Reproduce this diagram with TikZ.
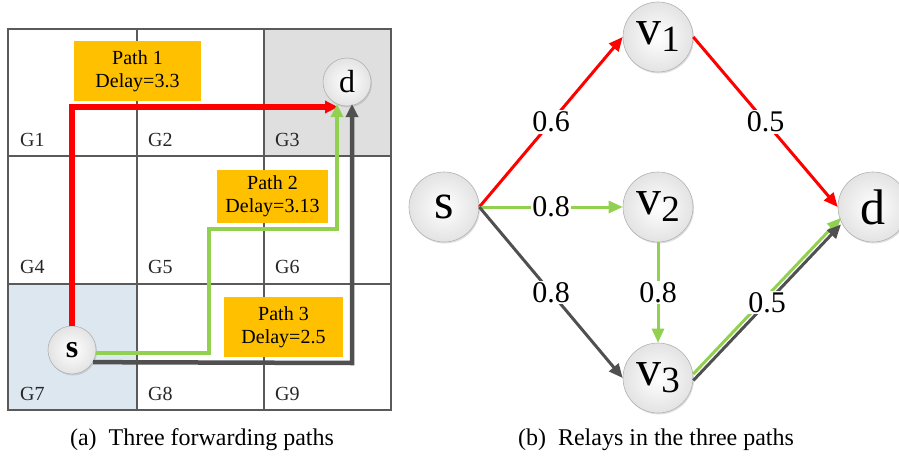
\documentclass[tikz,border=0pt]{standalone}
\usepackage{fontspec}
\setmainfont{Liberation Serif}
\usetikzlibrary{arrows.meta,shadows,calc}
\definecolor{gridc}{HTML}{5A5A5A}
\definecolor{boxc}{HTML}{FFC000}
\definecolor{pred}{HTML}{FF0000}
\definecolor{pgreen}{HTML}{92D050}
\definecolor{pgray}{HTML}{505050}
\definecolor{cellgray}{HTML}{DFDFDF}
\definecolor{cellblue}{HTML}{DDE7F0}
\begin{document}
\begin{tikzpicture}[x=1pt,y=-1pt,
  ball/.style={circle, draw=gray!60, line width=0.6pt, inner color=white, outer color=gray!22,
     drop shadow={shadow xshift=1pt, shadow yshift=-1.5pt, opacity=0.25}, inner sep=0pt},
  smallball/.style={ball, minimum size=48pt},
  bigball/.style={ball, minimum size=70pt},
  glab/.style={anchor=west, font=\fontsize{20}{20}\selectfont, text=black!85, inner sep=0pt},
  pbox/.style={fill=boxc, align=center, font=\fontsize{20}{23}\selectfont, inner sep=0pt},
  gridline/.style={draw=gridc, line width=1.8pt},
  thickarrow/.style={-{Triangle[length=13pt,width=12pt]}},
  lred/.style={draw=pred, line width=5.5pt, thickarrow},
  lgreen/.style={draw=pgreen, line width=4.5pt, thickarrow},
  lgray/.style={draw=pgray, line width=4.5pt, thickarrow},
  edge/.style={line width=3pt, -{Triangle[length=14pt,width=12pt]}},
  elab/.style={fill=white, inner sep=1.5pt, font=\fontsize{30}{30}\selectfont},
  caplab/.style={font=\fontsize{24}{24}\selectfont}
]
\useasboundingbox (0,0) rectangle (899,463);
% ---------- (a) grid ----------
\fill[cellgray] (264,29) rectangle (391,156);
\fill[cellblue] (8,284) rectangle (137,410);
\draw[gridline] (8,29) rectangle (391,410);
\draw[gridline] (137,29) -- (137,410);
\draw[gridline] (264,29) -- (264,410);
\draw[gridline] (8,156) -- (391,156);
\draw[gridline] (8,284) -- (391,284);
\node[glab] (g1) at (20,140) {G1};
\node[glab] (g2) at (148,140) {G2};
\node[glab] (g3) at (275,140) {G3};
\node[glab] (g4) at (20,267) {G4};
\node[glab] (g5) at (148,267) {G5};
\node[glab] (g6) at (275,267) {G6};
\node[glab] (g7) at (20,394) {G7};
\node[glab] (g8) at (148,394) {G8};
\node[glab] (g9) at (275,394) {G9};
\node[pbox, minimum width=127pt, minimum height=60pt] (p1) at (137.5,71) {Path 1\\Delay=3.3};
\node[pbox, minimum width=111pt, minimum height=53pt] (p2) at (272.5,196.5) {Path 2\\Delay=3.13};
\node[pbox, minimum width=119pt, minimum height=60pt] (p3) at (283.5,327) {Path 3\\Delay=2.5};
\node[smallball] (sa) at (72,350) {\fontsize{32}{32}\selectfont\bfseries s};
\node[smallball] (da) at (347,82) {\fontsize{32}{32}\selectfont d};
\coordinate (rt) at (338,107);
\coordinate (gt) at (337,104);
\coordinate (kt) at (352,104);
\coordinate (g1c) at (209,353);
\coordinate (g2c) at (209,229);
\coordinate (g3c) at (337,229);
\coordinate (k1c) at (352,363);
\draw[lred] (sa.north) |- (rt);
\draw[lgreen] ([yshift=-3pt]sa.east) -- (g1c) -- (g2c) -- (g3c) -- (gt);
\draw[lgray] (sa.-30) -- (k1c) -- (kt);
% ---------- (b) graph ----------
\node[bigball] (s) at (444,207) {\fontsize{50}{50}\selectfont s};
\node[bigball] (v1) at (658,37) {\fontsize{50}{50}\selectfont v\raisebox{-7pt}{\fontsize{37}{37}\selectfont 1}};
\node[bigball] (v2) at (658,207) {\fontsize{50}{50}\selectfont v\raisebox{-7pt}{\fontsize{37}{37}\selectfont 2}};
\node[bigball] (v3) at (658,378) {\fontsize{50}{50}\selectfont v\raisebox{-7pt}{\fontsize{37}{37}\selectfont 3}};
\node[bigball] (d) at (873,207) {\fontsize{50}{50}\selectfont d};
\draw[edge, draw=pred] (s.east) -- node[elab] {0.6} (v1.west);
\draw[edge, draw=pred] (v1.east) -- node[elab] {0.5} (d.west);
\draw[edge, draw=pgreen] (s.east) -- node[elab] {0.8} (v2.west);
\draw[edge, draw=pgray] (s.east) -- node[elab] {0.8} (v3.west);
\draw[edge, draw=pgreen] (v2.south) -- node[elab] {0.8} (v3.north);
\draw[edge, draw=pgreen] ([yshift=4pt]v3.east) -- ([yshift=4pt]d.205);
\draw[edge, draw=pgray] ([yshift=-2.5pt]v3.east) -- node[elab] {0.5} ([yshift=-2.5pt]d.205);
% ---------- captions ----------
\node[caplab] (ca) at (202,440) {(a)\hspace{0.5em}Three forwarding paths};
\node[caplab] (cb) at (656,440) {(b)\hspace{0.5em}Relays in the three paths};
\end{tikzpicture}
\end{document}
